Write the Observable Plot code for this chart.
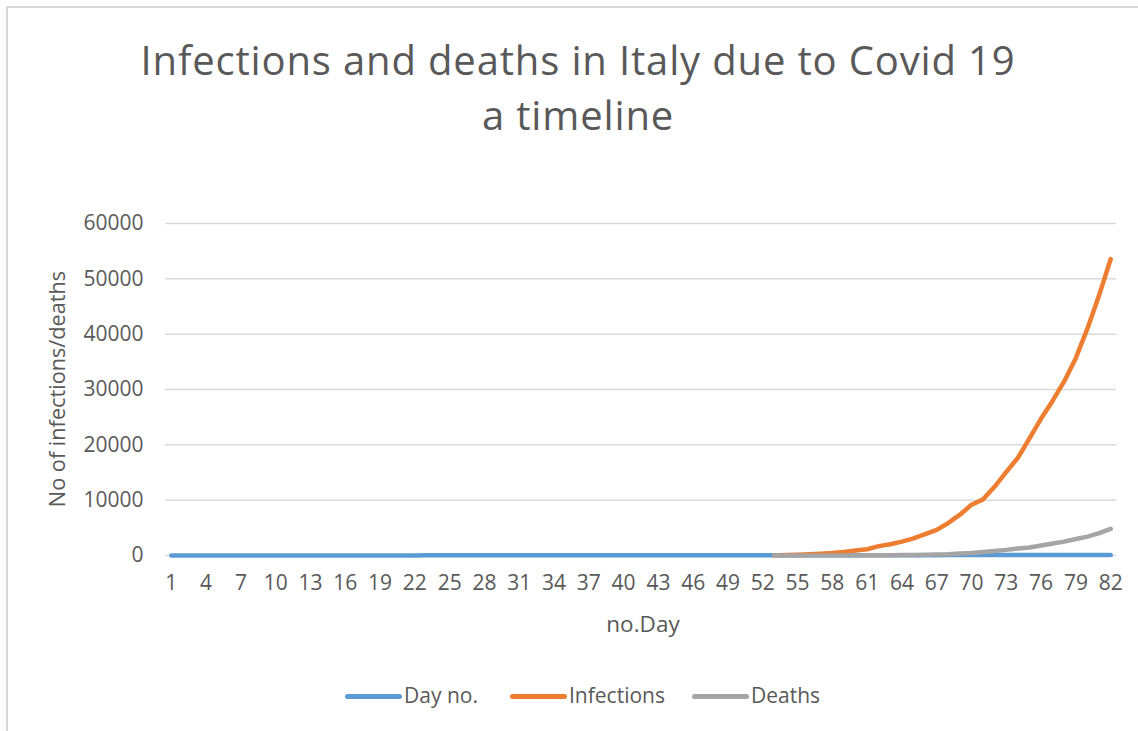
<!DOCTYPE html>
<html>
<head>
<meta charset="utf-8">
<script src="https://cdn.jsdelivr.net/npm/d3@7"></script>
<script src="https://cdn.jsdelivr.net/npm/@observablehq/plot@0.6"></script>
<style>
  html, body { margin: 0; padding: 0; background: #fff; }
  #wrap { position: relative; width: 1138px; height: 731px; overflow: hidden; font-family: "Open Sans", "Liberation Sans", sans-serif; color: #595959; }
  #frame { position: absolute; left: 6px; top: 6px; width: 1200px; height: 800px; border-left: 2px solid #D9D9D9; border-top: 2px solid #D9D9D9; }
  .t { position: absolute; white-space: nowrap; line-height: 1; }
  #chart { position: absolute; left: 0; top: 0; }
  .leg { position: absolute; height: 5px; border-radius: 3px; }
</style>
</head>
<body>
<div id="wrap">
  <div id="frame"></div>
  <div id="chart"></div>
  <div class="t" id="title1" style="font-size:40px; letter-spacing:0.85px; left:578px; top:40px; transform:translateX(-50%);">Infections and deaths in Italy due to Covid 19</div>
  <div class="t" id="title2" style="font-size:40px; letter-spacing:0.85px; left:578px; top:95px; transform:translateX(-50%);">a timeline</div>
  <div class="t" id="ytitle" style="font-size:21.7px; left:57px; top:389px; transform:translate(-50%,-50%) rotate(-90deg);">No of infections/deaths</div>
  <div class="t" id="xtitle" style="font-size:22.5px; left:643px; top:613px; transform:translateX(-50%);">no.Day</div>
  <div id="legend"></div>
</div>
<script>
// ---- data ----
const days = [1,2,3,4,5,6,7,8,9,10,11,12,13,14,15,16,17,18,19,20,21,22,23,24,25,26,27,28,29,30,31,32,33,34,35,36,37,38,39,40,41,42,43,44,45,46,47,48,49,50,51,52,53,54,55,56,57,58,59,60,61,62,63,64,65,66,67,68,69,70,71,72,73,74,75,76,77,78,79,80,81,82];
const dayNo = [1,2,3,4,5,6,7,8,9,10,11,12,13,14,15,16,17,18,19,20,21,22,23,24,25,26,27,28,29,30,31,32,33,34,35,36,37,38,39,40,41,42,43,44,45,46,47,48,49,50,51,52,53,54,55,56,57,58,59,60,61,62,63,64,65,66,67,68,69,70,71,72,73,74,75,76,77,78,79,80,81,82];
// infections and deaths are recorded from day 53 to day 82
const outbreakDays = [53,54,55,56,57,58,59,60,61,62,63,64,65,66,67,68,69,70,71,72,73,74,75,76,77,78,79,80,81,82];
const infections = [20,79,157,229,322,453,650,888,1128,1694,2036,2502,3089,3858,4636,5883,7375,9172,10149,12462,15113,17660,21157,24747,27980,31506,35713,41035,47021,53578];
const deaths = [1,2,3,7,10,12,17,21,29,34,52,79,107,148,197,233,366,463,631,827,1016,1266,1441,1809,2158,2503,2978,3405,4032,4825];
const xTicks = [1,4,7,10,13,16,19,22,25,28,31,34,37,40,43,46,49,52,55,58,61,64,67,70,73,76,79,82];
const yTicks = [0,10000,20000,30000,40000,50000,60000];
const seriesNames = ["Day no.", "Infections", "Deaths"];
const seriesColors = ["#5B9BD5", "#ED7D31", "#A5A5A5"];

const dayRows = days.map((d, i) => ({day: d, value: dayNo[i]}));
const infRows = outbreakDays.map((d, i) => ({day: d, value: infections[i]}));
const deathRows = outbreakDays.map((d, i) => ({day: d, value: deaths[i]}));

const lineStyle = {strokeWidth: 4.5, strokeLinecap: "round", strokeLinejoin: "round"};

const chart = Plot.plot({
  width: 1138,
  height: 731,
  marginTop: 223,
  marginBottom: 176,
  marginLeft: 165,
  marginRight: 22,
  style: {fontFamily: "'Open Sans', sans-serif", fontSize: "21px", color: "#595959", background: "transparent"},
  x: {domain: [0.5, 82.5], label: null},
  y: {domain: [0, 60000], label: null},
  marks: [
    Plot.gridY(yTicks, {stroke: "#D9D9D9", strokeOpacity: 1, strokeWidth: 1.5}),
    Plot.axisY(yTicks, {tickSize: 0, tickPadding: 22, tickFormat: d => String(d), fill: "#595959", fontSize: 21, label: null}),
    Plot.axisX(xTicks, {tickSize: 0, tickPadding: 20, tickFormat: d => String(d), fill: "#595959", fontSize: 21, label: null}),
    Plot.lineY(dayRows, {x: "day", y: "value", stroke: seriesColors[0], ...lineStyle}),
    Plot.lineY(infRows, {x: "day", y: "value", stroke: seriesColors[1], ...lineStyle}),
    Plot.lineY(deathRows, {x: "day", y: "value", stroke: seriesColors[2], ...lineStyle})
  ]
});
document.getElementById("chart").appendChild(chart);

// legend
const legendX = [345, 510, 692];
const legend = document.getElementById("legend");
seriesNames.forEach((name, i) => {
  const sw = document.createElement("div");
  sw.className = "leg";
  sw.style.left = legendX[i] + "px";
  sw.style.top = "694px";
  sw.style.width = "57px";
  sw.style.background = seriesColors[i];
  legend.appendChild(sw);
  const t = document.createElement("div");
  t.className = "t";
  t.style.fontSize = "21px";
  t.style.left = (legendX[i] + 59) + "px";
  t.style.top = "685px";
  t.textContent = name;
  legend.appendChild(t);
});
</script>
</body>
</html>
